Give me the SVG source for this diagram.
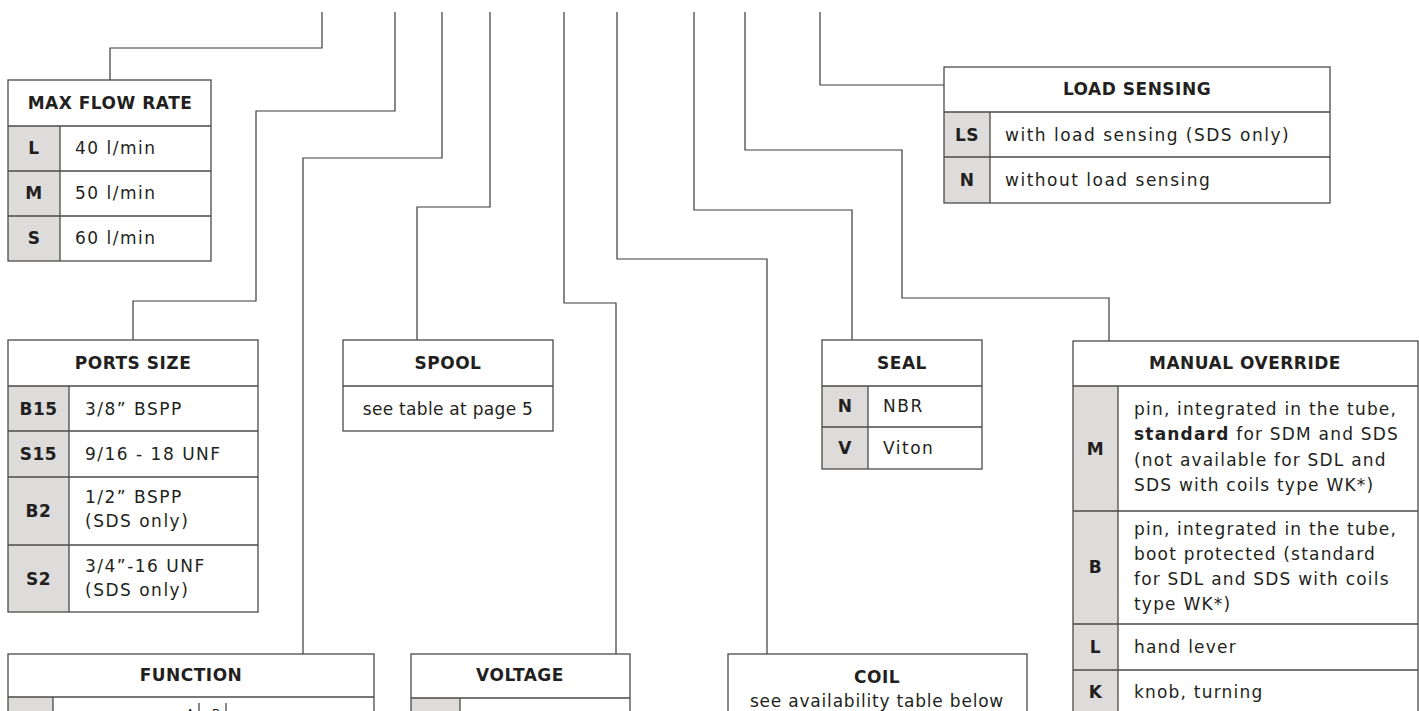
<svg xmlns="http://www.w3.org/2000/svg" width="1419" height="711" viewBox="0 0 1419 711">
<style>
.c{fill:none;stroke:#3a3a3a;stroke-width:1.2}
.bg{fill:#fff}
.o{fill:none;stroke:#4a4a4a;stroke-width:1.3}
.k{fill:#dddcda}
.d{stroke:#4a4a4a;stroke-width:1.3}
text{font-family:"DejaVu Sans",sans-serif;fill:#231f20}
.h{font-weight:bold;font-size:17px;text-anchor:middle;letter-spacing:0.5px}
.kt{font-weight:bold;font-size:17px;text-anchor:middle;letter-spacing:0.5px}
.v{font-size:17px;letter-spacing:1.5px}
.mo{letter-spacing:1.2px}
.m{text-anchor:middle}
</style>
<rect width="1419" height="711" fill="#fff"/>
<g id="connectors">
<path class="c" d="M322 12V48H110V80"/>
<path class="c" d="M395 12V111H256V301H133V340"/>
<path class="c" d="M442 12V158H303V654"/>
<path class="c" d="M490 12V207H417V340"/>
<path class="c" d="M564 12V303H616V654"/>
<path class="c" d="M617 12V259H767V654"/>
<path class="c" d="M694 12V210H852V340"/>
<path class="c" d="M745 12V150H902V298H1109V341"/>
<path class="c" d="M820 12V85H944"/>
</g>
<g id="max-flow-rate">
<rect class="bg" x="8" y="80" width="203" height="181"/>
<rect class="k" x="8" y="126" width="52" height="135"/>
<path class="d" d="M8 126H211M8 171H211M8 216H211M60 126V261"/>
<rect class="o" x="8" y="80" width="203" height="181"/>
<text class="h" x="110" y="109">MAX FLOW RATE</text>
<text class="kt" x="34" y="154">L</text>
<text class="kt" x="34" y="199">M</text>
<text class="kt" x="34" y="244">S</text>
<text class="v" x="75" y="154">40 l/min</text>
<text class="v" x="75" y="199">50 l/min</text>
<text class="v" x="75" y="244">60 l/min</text>
</g>
<g id="ports-size">
<rect class="bg" x="8" y="340" width="250" height="272"/>
<rect class="k" x="8" y="386" width="61" height="226"/>
<path class="d" d="M8 386H258M8 431H258M8 477H258M8 545H258M69 386V612"/>
<rect class="o" x="8" y="340" width="250" height="272"/>
<text class="h" x="133" y="369">PORTS SIZE</text>
<text class="kt" x="38.5" y="415">B15</text>
<text class="kt" x="38.5" y="460">S15</text>
<text class="kt" x="38.5" y="517">B2</text>
<text class="kt" x="38.5" y="585">S2</text>
<text class="v" x="85" y="415">3/8” BSPP</text>
<text class="v" x="85" y="460">9/16 - 18 UNF</text>
<text class="v" x="85" y="503">1/2” BSPP</text>
<text class="v" x="85" y="527">(SDS only)</text>
<text class="v" x="85" y="572">3/4”-16 UNF</text>
<text class="v" x="85" y="596">(SDS only)</text>
</g>
<g id="spool">
<rect class="bg" x="343" y="340" width="210" height="91"/>
<path class="d" d="M343 386H553"/>
<rect class="o" x="343" y="340" width="210" height="91"/>
<text class="h" x="448" y="369">SPOOL</text>
<text class="v m" x="448" y="415" style="letter-spacing:0.3px">see table at page 5</text>
</g>
<g id="seal">
<rect class="bg" x="822" y="340" width="160" height="129"/>
<rect class="k" x="822" y="386" width="46" height="83"/>
<path class="d" d="M822 386H982M822 427H982M868 386V469"/>
<rect class="o" x="822" y="340" width="160" height="129"/>
<text class="h" x="902" y="369">SEAL</text>
<text class="kt" x="845" y="412">N</text>
<text class="kt" x="845" y="454">V</text>
<text class="v" x="883" y="412">NBR</text>
<text class="v" x="883" y="454">Viton</text>
</g>
<g id="load-sensing">
<rect class="bg" x="944" y="67" width="386" height="136"/>
<rect class="k" x="944" y="112" width="46" height="91"/>
<path class="d" d="M944 112H1330M944 157H1330M990 112V203"/>
<rect class="o" x="944" y="67" width="386" height="136"/>
<text class="h" x="1137" y="95">LOAD SENSING</text>
<text class="kt" x="967" y="141">LS</text>
<text class="kt" x="967" y="186">N</text>
<text class="v" x="1005" y="141">with load sensing (SDS only)</text>
<text class="v" x="1005" y="186">without load sensing</text>
</g>
<g id="manual-override">
<rect class="bg" x="1073" y="341" width="345" height="400"/>
<rect class="k" x="1073" y="386" width="45" height="355"/>
<path class="d" d="M1073 386H1418M1073 511H1418M1073 624H1418M1073 670H1418M1118 386V741"/>
<rect class="o" x="1073" y="341" width="345" height="400"/>
<text class="h" x="1245" y="369">MANUAL OVERRIDE</text>
<text class="kt" x="1095.5" y="455">M</text>
<text class="kt" x="1095.5" y="573">B</text>
<text class="kt" x="1095.5" y="653">L</text>
<text class="kt" x="1095.5" y="698">K</text>
<text class="v mo" x="1134" y="415">pin, integrated in the tube,</text>
<text class="v mo" x="1134" y="440"><tspan font-weight="bold">standard</tspan> for SDM and SDS</text>
<text class="v mo" x="1134" y="466">(not available for SDL and</text>
<text class="v mo" x="1134" y="491">SDS with coils type WK*)</text>
<text class="v mo" x="1134" y="535">pin, integrated in the tube,</text>
<text class="v mo" x="1134" y="560">boot protected (standard</text>
<text class="v mo" x="1134" y="585">for SDL and SDS with coils</text>
<text class="v mo" x="1134" y="610">type WK*)</text>
<text class="v mo" x="1134" y="653">hand lever</text>
<text class="v mo" x="1134" y="698">knob, turning</text>
</g>
<g id="function">
<rect class="bg" x="8" y="654" width="366" height="100"/>
<rect class="k" x="8" y="697" width="45" height="57"/>
<path class="d" d="M8 697H374M53 697V754"/>
<rect class="o" x="8" y="654" width="366" height="100"/>
<text class="h" x="191" y="681">FUNCTION</text>
<text x="186" y="718" style="font-size:12px">A</text>
<text x="212" y="718" style="font-size:12px">B</text>
<path class="c" d="M199 703V711M226 703V711"/>
</g>
<g id="voltage">
<rect class="bg" x="411" y="654" width="219" height="100"/>
<rect class="k" x="411" y="698" width="49" height="56"/>
<path class="d" d="M411 698H630M460 698V754"/>
<rect class="o" x="411" y="654" width="219" height="100"/>
<text class="h" x="520" y="681">VOLTAGE</text>
</g>
<g id="coil">
<rect class="bg" x="728" y="654" width="299" height="100"/>
<rect class="o" x="728" y="654" width="299" height="100"/>
<text class="h" x="877" y="683">COIL</text>
<text class="v m" x="877" y="707" style="letter-spacing:0.8px">see availability table below</text>
</g>
</svg>
